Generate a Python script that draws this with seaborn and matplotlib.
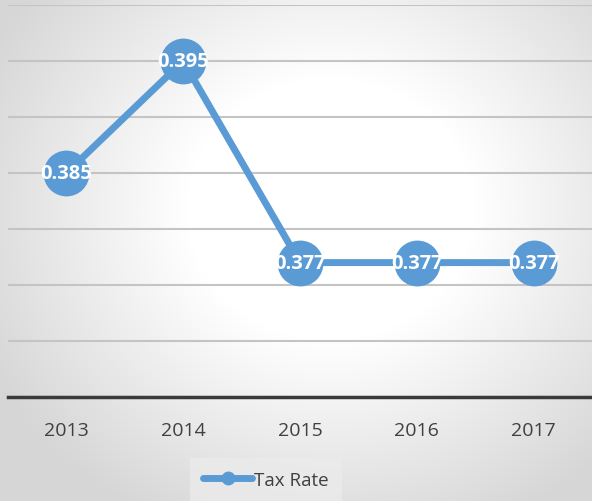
import numpy as np
import seaborn as sns
import matplotlib.pyplot as plt
from matplotlib.lines import Line2D

# data
years = ["2013", "2014", "2015", "2016", "2017"]
tax_rate = [0.385, 0.395, 0.377, 0.377, 0.377]
labels = ["0.385", "0.395", "0.377", "0.377", "0.377"]

blue = "#5B9BD5"
text_col = "#404040"

sns.set_theme(style="white")
plt.rcParams["font.family"] = ["Open Sans", "DejaVu Sans"]

fig = plt.figure(figsize=(5.92, 5.02), dpi=100)

# radial gradient background
bg = fig.add_axes([0, 0, 1, 1], zorder=0)
yy, xx = np.mgrid[0:502, 0:592]
d = np.sqrt(((xx - 330) / 320.0) ** 2 + ((yy - 210) / 290.0) ** 2)
shade = 1.0 - 0.16 * np.clip((d - 0.45) / 0.75, 0, 1)
bg.imshow(np.dstack([shade] * 3), aspect="auto", extent=[0, 1, 0, 1])
bg.axis("off")

ax = fig.add_axes([8 / 592, 104 / 502, 584 / 592, 392 / 502], zorder=1)
ax.patch.set_alpha(0)

sns.lineplot(x=years, y=tax_rate, ax=ax, color=blue, linewidth=5,
             marker="o", markersize=33, markeredgewidth=0, sort=False)

for i, (v, lab) in enumerate(zip(tax_rate, labels)):
    ax.text(i, v, lab, ha="center", va="center", color="white",
            fontsize=14.5, fontweight="bold", zorder=5)

ax.set_xlim(-0.5, 4.5)
ax.set_ylim(0.365, 0.400)
ax.set_yticks(np.arange(0.365, 0.4001, 0.005))
ax.yaxis.grid(True, color="#c4c4c4", linewidth=1.5)
ax.set_axisbelow(True)
ax.tick_params(axis="y", left=False, labelleft=False)
ax.tick_params(axis="x", bottom=False, labelsize=14, labelcolor=text_col, pad=11)
for s in ["top", "right", "left"]:
    ax.spines[s].set_visible(False)
ax.spines["bottom"].set_color("#3a3a3a")
ax.spines["bottom"].set_linewidth(2.5)
ax.set_xlabel("")
ax.set_ylabel("")

handle = Line2D([], [], color=blue, linewidth=5, marker="o", markersize=9,
                solid_capstyle="round")
leg = fig.legend([handle], ["Tax Rate"], loc="center",
                 bbox_to_anchor=(266 / 592, 21 / 502), frameon=True,
                 fontsize=13.5, handlelength=2.6, handletextpad=0.1,
                 borderpad=0.7, fancybox=False)
leg.get_frame().set_facecolor("#ebebeb")
leg.get_frame().set_edgecolor("none")
for t in leg.get_texts():
    t.set_color(text_col)

fig.savefig("out.png", dpi=100)
